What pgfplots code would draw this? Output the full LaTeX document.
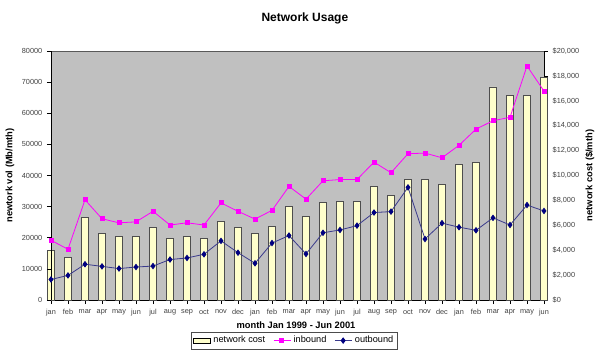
\documentclass[border=0pt]{standalone}
\usepackage{pgfplots}
\usepackage{pgfplotstable}
\pgfplotsset{compat=1.18}
\usepackage{fontspec}
\setmainfont{Liberation Sans}
\definecolor{plotgray}{HTML}{C0C0C0}
\definecolor{barfill}{HTML}{FFFFCC}
\definecolor{bardraw}{HTML}{4D4D4D}
\definecolor{inb}{HTML}{FF00FF}
\definecolor{outb}{HTML}{000080}
\definecolor{outline}{HTML}{3A3A8C}

\pgfplotstableread{
x cost inbound outbound
0 3960 19200 6600
1 3400 16300 7900
2 6610 32200 11500
3 5350 26100 10800
4 5110 24800 10100
5 5110 25100 10600
6 5810 28500 10900
7 4920 24100 13000
8 5110 24800 13500
9 4920 24100 14700
10 6340 31200 19000
11 5810 28500 15200
12 5330 26000 11800
13 5920 28800 18300
14 7490 36500 20700
15 6690 32400 14800
16 7820 38300 21600
17 7900 38700 22500
18 7900 38700 23900
19 9100 44300 28100
20 8380 40900 28400
21 9660 47000 36200
22 9690 47200 19600
23 9310 45700 24700
24 10920 49700 23400
25 11080 54900 22400
26 17110 57600 26400
27 16430 58700 24100
28 16430 75200 30500
29 17910 67100 28600
}\data

\begin{document}
\begin{tikzpicture}
\useasboundingbox (-38.25pt,-43.5pt) rectangle (411.75pt,225pt);
\pgfplotsset{
  common/.style={
    at={(0,0)}, anchor=south west,
    scale only axis, width=369.75pt, height=186.75pt,
    xmin=0, xmax=29,
    tick align=outside, major tick length=3pt,
    tick style={black, line width=0.5pt},
    axis line style={black, line width=0.6pt},
    tick label style={font=\fontsize{5.5}{6}\selectfont, text=black!75},
    /pgf/number format/assume math mode=true,
    scaled y ticks=false,
  }
}
\begin{axis}[common,
  ymin=0, ymax=20000,
  axis x line*=bottom, axis y line*=right,
  axis background/.style={fill=plotgray, draw=gray!70!black},
  clip=false,
  xtick={0,...,29},
  xticklabels={jan,feb,mar,apr,may,jun,jul,aug,sep,oct,nov,dec,jan,feb,mar,apr,may,jun,jul,aug,sep,oct,nov,dec,jan,feb,mar,apr,may,jun},
  xticklabel style={yshift=-0.5pt},
  ytick={0,2000,...,20000},
  /pgf/number format/1000 sep={,},
  yticklabel={\$\pgfmathprintnumber{\tick}},
  ylabel={\bfseries network cost (\$/mth)},
  ylabel style={font=\fontsize{7}{8}\selectfont, at={(axis description cs:1.093,0.5)}, anchor=center},
  xlabel={\bfseries month Jan 1999 - Jun 2001},
  xlabel style={font=\fontsize{7}{8}\selectfont, at={(axis description cs:0.497,-0.100)}, anchor=center},
]
\addplot[ybar, bar width=4.9pt, fill=barfill, draw=bardraw, line width=0.6pt] table[x=x, y=cost]{\data};
\end{axis}
\begin{axis}[common,
  ymin=0, ymax=80000,
  hide x axis, axis y line*=left,
  ytick={0,10000,...,80000},
  /pgf/number format/1000 sep={},
  ylabel={\bfseries newtork vol (Mb/mth)},
  ylabel style={font=\fontsize{7}{8}\selectfont, at={(axis description cs:-0.0832,0.5)}, anchor=center},
  title={\bfseries Network Usage},
  title style={font=\fontsize{9}{10}\selectfont, at={(axis description cs:0.515,1.10)}, anchor=center},
  legend style={at={(axis description cs:0.494,-0.163)}, anchor=center, legend columns=3,
    draw=gray!60!black, font=\fontsize{6.9}{8}\selectfont, inner sep=1pt,
    /tikz/every even column/.append style={column sep=4pt}},
  legend cell align=left,
  legend image code/.code={\draw[#1] (0cm,0cm) -- (0.22cm,0cm) plot coordinates {(0.22cm,0cm)} -- (0.45cm,0cm);},
]
\addlegendimage{legend image code/.code={\draw[fill=barfill, draw=black, line width=0.5pt] (0cm,-0.07cm) rectangle (0.45cm,0.07cm);}}
\addlegendentry{network cost}
\addplot[color=inb, line width=0.6pt, mark=square*, mark size=1.5pt, mark options={fill=inb, draw=inb}] table[x=x, y=inbound]{\data};
\addlegendentry{inbound}
\addplot[color=outline, line width=0.6pt, mark=diamond*, mark size=2pt, mark options={fill=outb, draw=outb}] table[x=x, y=outbound]{\data};
\addlegendentry{outbound}
\end{axis}
\end{tikzpicture}
\end{document}
